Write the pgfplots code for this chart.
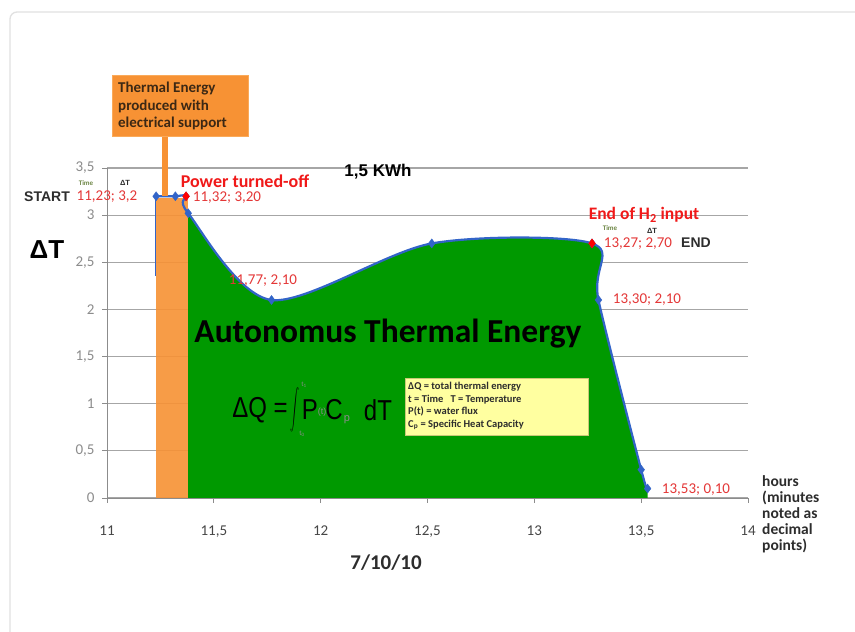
\documentclass[border=0pt]{standalone}
\usepackage{fontspec}
\setmainfont{Carlito}
\newfontfamily\arial{Liberation Sans}
\usepackage{graphicx}
\usepackage{pgfplots}
\pgfplotsset{compat=1.18}
\definecolor{tickgray}{RGB}{140,140,140}
\definecolor{xlab}{RGB}{70,70,70}
\definecolor{gridgray}{RGB}{166,166,166}
\definecolor{framegray}{RGB}{225,225,225}
\definecolor{orangeC}{RGB}{247,146,52}
\definecolor{orangeL}{RGB}{250,170,90}
\definecolor{greenC}{RGB}{0,153,0}
\definecolor{blueC}{RGB}{50,100,200}
\definecolor{redL}{RGB}{228,55,55}
\definecolor{redB}{RGB}{240,25,25}
\definecolor{darkT}{RGB}{45,45,45}
\definecolor{timeG}{RGB}{110,135,70}
\definecolor{yellowB}{RGB}{255,255,160}
\definecolor{yellowD}{RGB}{200,200,120}
\definecolor{calloutT}{RGB}{60,40,20}
\newcommand\fs[2]{\fontsize{#1}{#2}\selectfont}
\begin{document}
\begin{tikzpicture}[x=1pt,y=1pt]
\useasboundingbox (0,0) rectangle (855,632);
\fill[white] (0,0) rectangle (855,632);
\draw[framegray, line width=1.3pt, rounded corners=7pt] (10,-10) -- (10,620) -- (870,620);
\begin{axis}[
  at={(107pt,134pt)}, anchor=south west,
  scale only axis, width=641pt, height=330pt,
  xmin=11, xmax=14, ymin=0, ymax=3.5,
  axis lines*=left,
  axis line style={tickgray, line width=0.9pt},
  xtick={11,11.5,12,12.5,13,13.5,14},
  ytick={0,0.5,1,1.5,2,2.5,3,3.5},
  /pgf/number format/use comma,
  /pgf/number format/assume math mode=true,
  tick align=outside, major tick length=5pt,
  tick style={tickgray, line width=0.8pt},
  ymajorgrids, grid style={gridgray, line width=1.2pt},
  xticklabel style={font=\fs{15}{17}, text=xlab, yshift=-19pt},
  yticklabel style={font=\fs{15}{17}, text=tickgray, xshift=-4pt},
  clip=false,
]
\addplot[draw=none, fill=orangeC, fill opacity=0.9] coordinates {(11.23,0)(11.23,3.18)(11.38,3.18)(11.38,0)} -- cycle;
\addplot[blueC, line width=0.8pt] coordinates {(11.225,3.2)(11.225,2.35)};
\addplot[draw=none, fill=greenC, smooth] coordinates {(11.38,3.02)(11.77,2.10)(12.52,2.70)(13.27,2.70)(13.30,2.10)(13.50,0.30)(13.53,0.10)} \closedcycle;
\addplot[blueC, line width=2.2pt, smooth, mark=diamond*, mark size=4.5pt, mark options={solid, fill=blueC, draw=blueC, line width=0.4pt}] coordinates {(11.23,3.2)(11.32,3.2)(11.37,3.2)(11.38,3.02)(11.77,2.10)(12.52,2.70)(13.27,2.70)(13.30,2.10)(13.50,0.30)(13.53,0.10)};
\addplot[only marks, mark=diamond*, mark size=4.5pt, mark options={fill=red, draw=red}] coordinates {(11.37,3.2)(13.27,2.70)};
\end{axis}
% callout
\fill[orangeC] (162,495) rectangle (168,436);
\draw[orangeL, fill=orangeC, line width=1pt] (112,556) rectangle (248,495);
\node[anchor=north west, align=left, inner sep=0, font=\bfseries\fs{15}{17.5}, text=calloutT] at (118,550) {Thermal Energy\\produced with\\electrical support};
% labels
\node[font=\arial\bfseries\fs{17}{19}, text=black] at (378,460) {1,5 KWh};
\node[font=\arial\bfseries\fs{26}{30}, text=black] at (47,382) {ΔT};
\node[font=\arial\bfseries\fs{14}{16}, text=darkT] at (47,435) {START};
\node[font=\bfseries\fs{7}{8}, text=timeG] at (86,449) {Time};
\node[font=\arial\bfseries\fs{7.5}{8}, text=darkT] at (125,449) {ΔT};
\node[font=\fs{15}{16}, text=redL] at (107,435) {11,23; 3,2};
\node[font=\bfseries\fs{18}{20}, text=redB] at (245,451) {Power turned-off};
\node[font=\fs{15}{16}, text=redL] at (227,434) {11,32; 3,20};
\node[font=\fs{15}{16}, text=redL] at (263,351) {11,77; 2,10};
\node[font=\bfseries\fs{17.5}{20}, text=redB] at (644,417) {End of H\textsubscript{2} input};
\node[font=\bfseries\fs{7}{8}, text=timeG] at (610,404) {Time};
\node[font=\arial\bfseries\fs{7.5}{8}, text=darkT] at (652,401) {ΔT};
\node[font=\fs{15}{16}, text=redL] at (638,388) {13,27; 2,70};
\node[font=\arial\bfseries\fs{14}{16}, text=darkT] at (696,389) {END};
\node[font=\fs{15}{16}, text=redL] at (647,332) {13,30; 2,10};
\node[font=\fs{15}{16}, text=redL] at (696,142) {13,53; 0,10};
\node[anchor=north west, align=left, inner sep=0, font=\bfseries\fs{15.5}{16}, text=darkT] at (762,157) {hours\\(minutes\\noted as\\decimal\\points)};
\node[font=\bfseries\fs{21}{24}, text=darkT] at (386,69) {7/10/10};
\node[font=\bfseries\fs{33.5}{38}, text=black] at (388,298) {Autonomus Thermal Energy};
% formula
\node[font=\arial\fs{24}{28}, text=black] at (260,222) {\scalebox{1}[1.2]{ΔQ =}};
\node[text=black, inner sep=0] at (295,222) {\scalebox{0.9}[2.0]{$\displaystyle\int$}};
\node[font=\fs{7}{8}, text=tickgray, inner sep=0] at (304,247) {t\textsubscript{1}};
\node[font=\fs{7}{8}, text=tickgray, inner sep=0] at (302,198) {t\textsubscript{0}};
\node[font=\arial\fs{24}{28}, text=black] at (310,222) {\scalebox{1}[1.2]{P}};
\node[font=\arial\fs{9}{10}, text=tickgray] at (322,220) {(t)};
\node[font=\arial\fs{24}{28}, text=black] at (334,222) {\scalebox{1}[1.2]{C}};
\node[font=\arial\fs{11}{12}, text=tickgray] at (347,212) {p};
\node[font=\arial\fs{24}{28}, text=black] at (378,222) {\scalebox{1}[1.2]{dT}};
% yellow box
\draw[fill=yellowB, draw=yellowD, line width=0.6pt] (405,254) rectangle (588,197);
\node[anchor=west, align=left, inner sep=0, font=\bfseries\fs{10.5}{12.5}, text=darkT] at (408,226) {ΔQ = total thermal energy\\t = Time~~~T = Temperature\\P(t) = water flux\\C\textsubscript{p} = Specific Heat Capacity};
\end{tikzpicture}
\end{document}
